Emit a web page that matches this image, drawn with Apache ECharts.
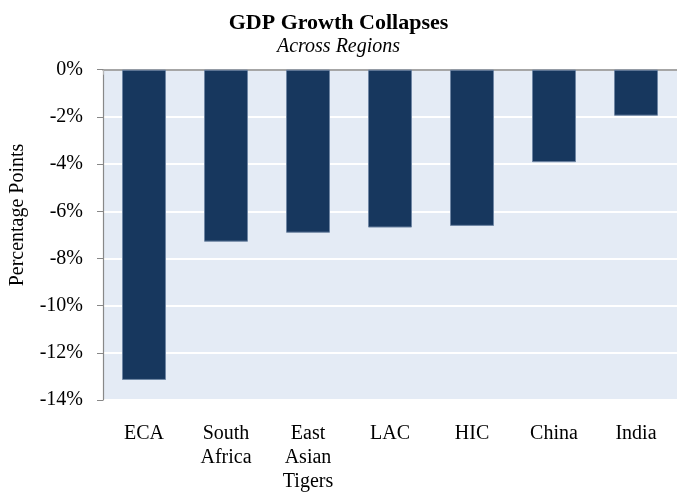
<!DOCTYPE html>
<html>
<head>
<meta charset="utf-8">
<script src="https://cdn.jsdelivr.net/npm/echarts@6/dist/echarts.min.js"></script>
<style>
  html, body { margin: 0; padding: 0; background: #ffffff; }
  #chart { width: 677px; height: 495px; }
</style>
</head>
<body>
<div id="chart"></div>
<script>
// Regions on the category axis (line breaks as printed under the bars)
const regions = ['ECA', 'South\nAfrica', 'East\nAsian\nTigers', 'LAC', 'HIC', 'China', 'India'];
// Change in GDP growth, percentage points
const growthChange = [-13.15, -7.29, -6.91, -6.69, -6.62, -3.92, -1.95];
// Value axis range and step (percent)
const yMin = -14;
const yMax = 0;
const yStep = 2;

const serif = '"Liberation Serif", "Times New Roman", serif';

const chart = echarts.init(document.getElementById('chart'), null, { renderer: 'canvas' });

chart.setOption({
  animation: false,
  backgroundColor: '#ffffff',
  title: [
    {
      text: 'GDP Growth Collapses',
      left: 'center',
      top: 7,
      textStyle: { fontFamily: serif, fontSize: 22, fontWeight: 'bold', color: '#000000' }
    },
    {
      text: 'Across Regions',
      left: 'center',
      top: 32,
      textStyle: { fontFamily: serif, fontSize: 20, fontStyle: 'italic', fontWeight: 'normal', color: '#000000' }
    }
  ],
  graphic: [
    {
      type: 'text',
      x: 18,
      y: 215,
      rotation: Math.PI / 2,
      style: {
        text: 'Percentage Points',
        font: '20px ' + serif,
        fill: '#000000',
        align: 'center',
        verticalAlign: 'middle'
      }
    }
  ],
  grid: {
    left: 103,
    right: -3.5,
    top: 69.7,
    bottom: 95,
    show: true,
    backgroundColor: '#E4EBF5',
    borderWidth: 0,
    containLabel: false
  },
  xAxis: [
    {
      type: 'category',
      data: regions,
      position: 'bottom',
      axisLine: { show: false },
      axisTick: { show: false },
      axisLabel: {
        interval: 0,
        margin: 22,
        fontFamily: serif,
        fontSize: 20,
        lineHeight: 24,
        color: '#000000',
        verticalAlign: 'top'
      },
      splitLine: { show: false }
    },
    {
      type: 'category',
      data: regions,
      position: 'top',
      axisLine: { show: true, onZero: false, lineStyle: { color: '#898989', width: 1.5 } },
      axisTick: {
        show: true,
        inside: true,
        length: 5,
        interval: function (index) { return index === 5; },
        lineStyle: { color: '#b8b8b8', width: 1 }
      },
      axisLabel: { show: false },
      splitLine: { show: false }
    }
  ],
  yAxis: {
    type: 'value',
    min: yMin,
    max: yMax,
    interval: yStep,
    axisLine: { show: true, lineStyle: { color: '#888888', width: 1.2 } },
    axisTick: { show: true, inside: false, length: 6, lineStyle: { color: '#888888', width: 1 } },
    axisLabel: {
      margin: 20,
      fontFamily: serif,
      fontSize: 20,
      color: '#000000',
      formatter: function (v) { return v + '%'; }
    },
    splitLine: { show: true, lineStyle: { color: '#ffffff', width: 2 } }
  },
  series: [
    {
      type: 'bar',
      xAxisIndex: 0,
      data: growthChange,
      barWidth: 44,
      itemStyle: { color: '#17375E', borderColor: '#6f86a4', borderWidth: 1 }
    }
  ]
});
</script>
</body>
</html>
